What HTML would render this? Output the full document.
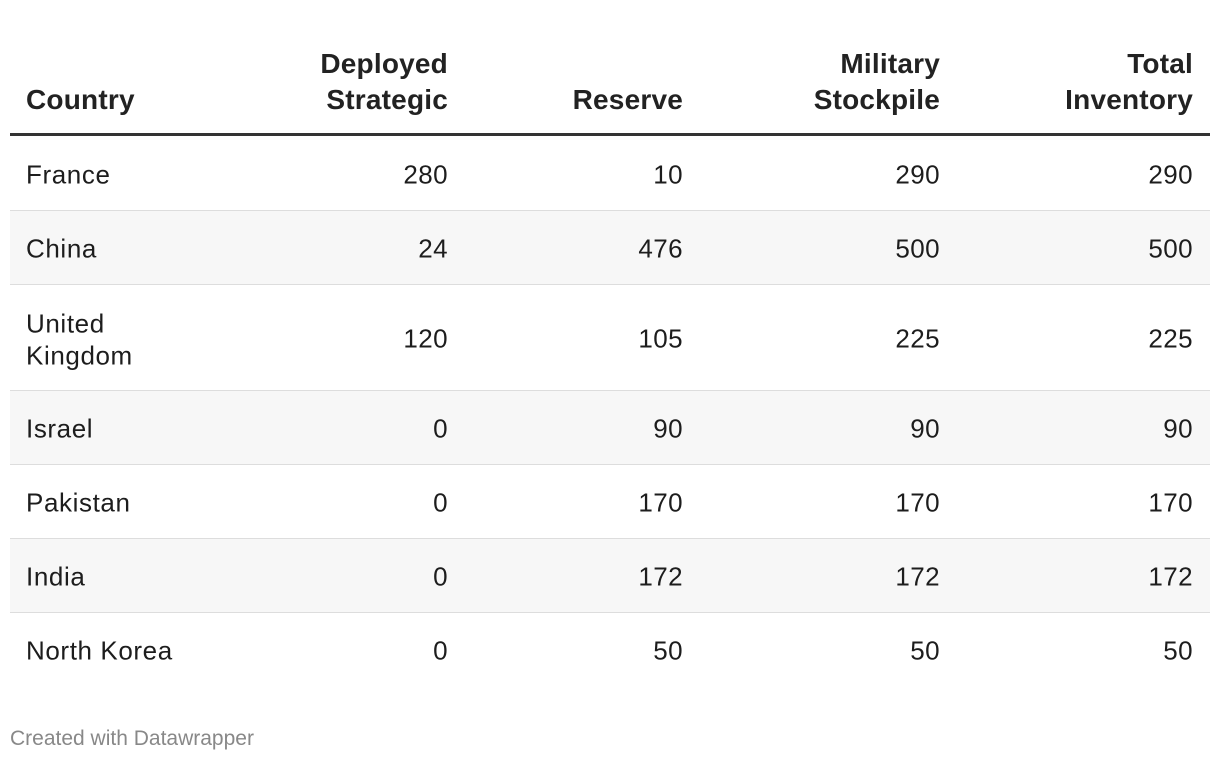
<!DOCTYPE html>
<html><head><meta charset="utf-8"><style>
body{margin:0;width:1220px;height:762px;background:#fff;font-family:"Liberation Sans",Arial,sans-serif;color:#1d1d1d;position:relative;overflow:hidden}
.h{position:absolute;font-weight:bold;font-size:28px;line-height:36px;color:#222;letter-spacing:0.2px}
.r{text-align:right}
.row{position:absolute;left:10px;width:1200px;border-bottom:1px solid #ddd}
.row.last{border-bottom:none}
.row.alt{background:#f7f7f7}
.c{position:absolute;font-size:26px;line-height:32px;top:50%;transform:translateY(-48%);letter-spacing:0.6px}
.n{text-align:right;width:200px;letter-spacing:0.4px}
#foot{position:absolute;left:10px;top:727px;font-size:21px;color:#888}
</style></head><body>
<div>
<div class="h" style="left:26px;top:82px">Country</div>
<div class="h r" style="left:248px;width:200px;top:46px">Deployed<br>Strategic</div>
<div class="h r" style="left:483px;width:200px;top:82px">Reserve</div>
<div class="h r" style="left:740px;width:200px;top:46px">Military<br>Stockpile</div>
<div class="h r" style="left:993px;width:200px;top:46px">Total<br>Inventory</div>
<div style="position:absolute;left:10px;top:133px;width:1200px;height:3px;background:#333"></div>
<div id="rows"></div>
</div>
<div id="foot">Created with Datawrapper</div>
<script>
const countries=["France","China","United<br>Kingdom","Israel","Pakistan","India","North Korea"];
const deployed=[280,24,120,0,0,0,0];
const reserve=[10,476,105,90,170,172,50];
const stockpile=[290,500,225,90,170,172,50];
const total=[290,500,225,90,170,172,50];
const host=document.getElementById('rows');
let y=137;
countries.forEach((c,i)=>{
  const h=c.includes('<br>')?105:73;
  const row=document.createElement('div');
  row.className='row'+(i%2?' alt':'')+(i===countries.length-1?' last':'');
  row.style.top=y+'px';row.style.height=h+'px';
  
  
  const cells=[[c,16,false],[deployed[i],238,true],[reserve[i],473,true],[stockpile[i],730,true],[total[i],983,true]];
  cells.forEach(([t,x,num])=>{
    const d=document.createElement('div');
    d.className='c'+(num?' n':'');
    d.style.left=x+'px';
    d.innerHTML=t;
    
    
    row.appendChild(d);
  });
  host.appendChild(row);
  y+=h+1;
});
</script>
</body></html>
